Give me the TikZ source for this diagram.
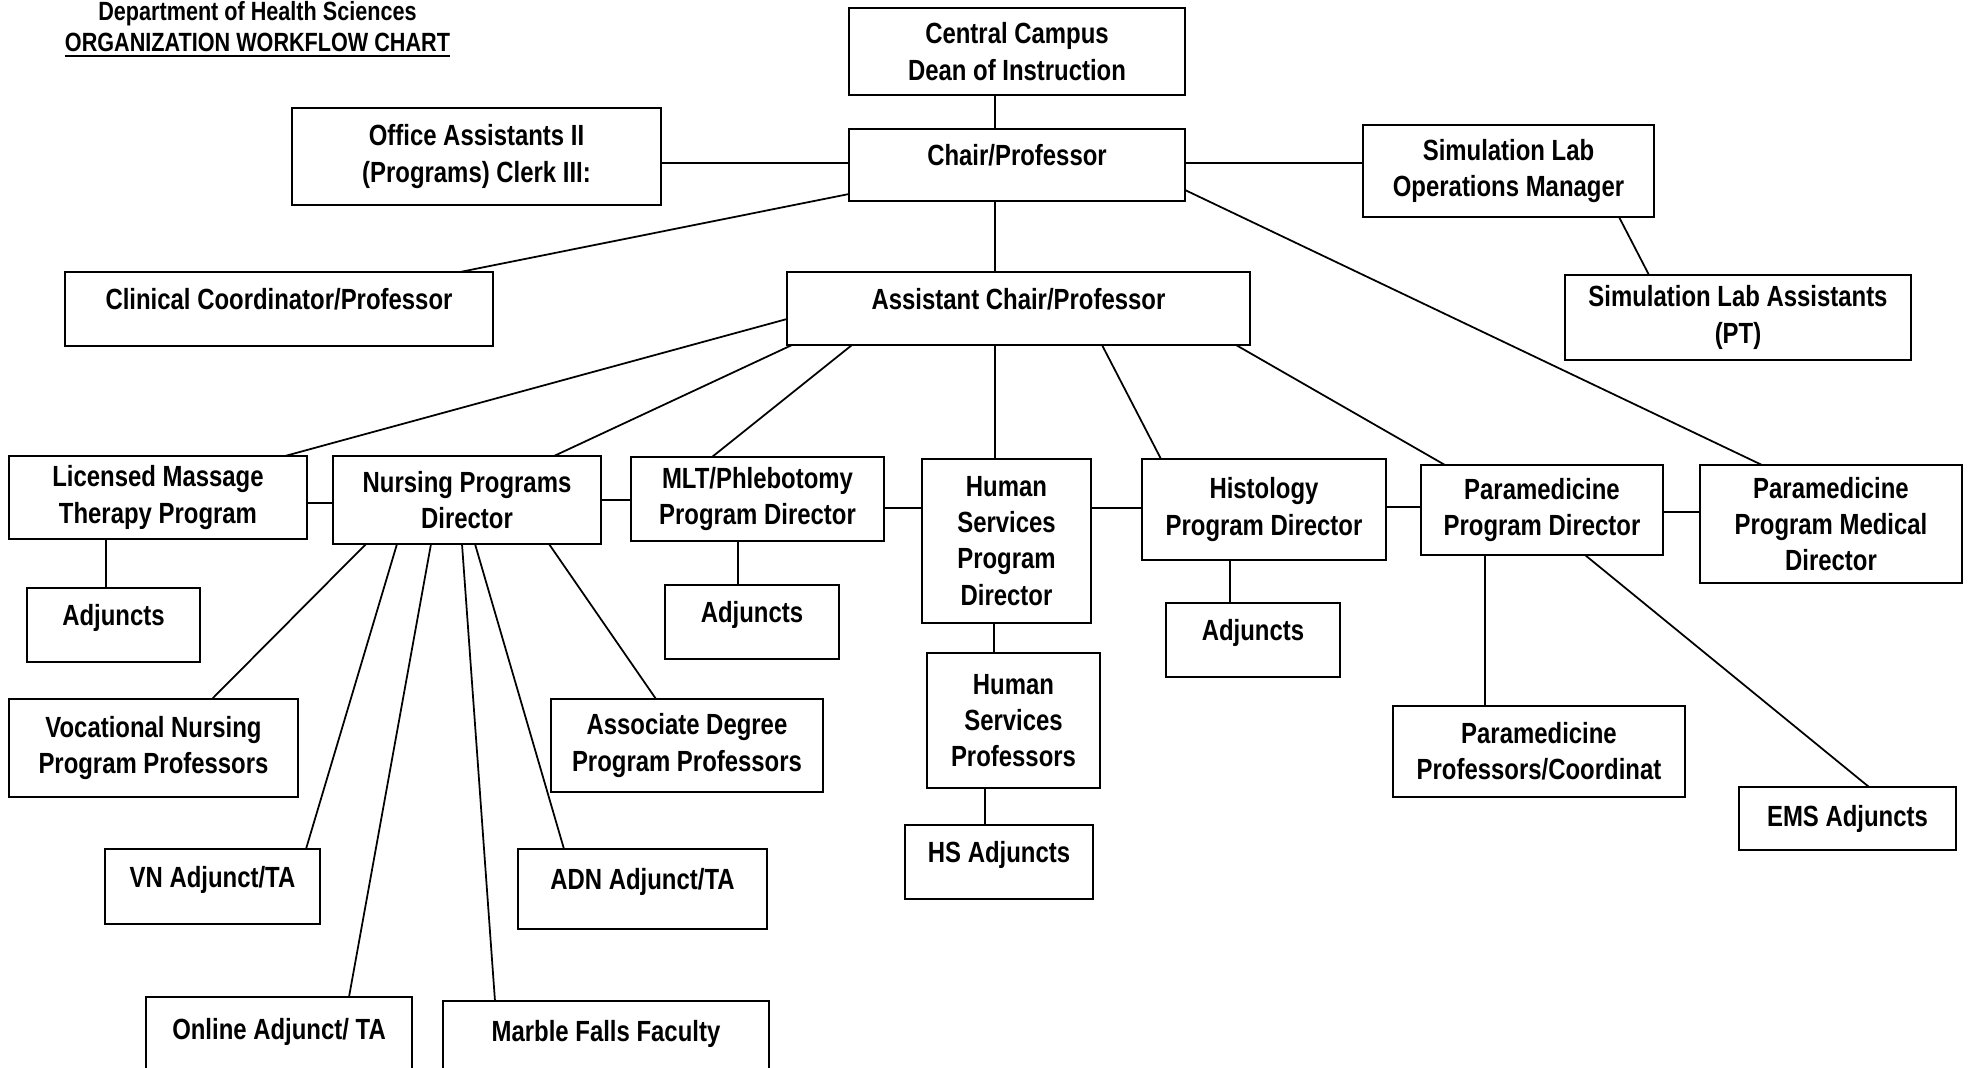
\documentclass[tikz,border=0pt]{standalone}
\usepackage{fontspec}
\setmainfont{Liberation Sans}[FakeStretch=0.82]
\usepackage{tikz}
\tikzstyle{box}  = [draw, line width=0.75pt, inner sep=0pt, outer sep=0pt, text centered, align=center, font=\bfseries\fontsize{8.3}{10.3}\selectfont]
\tikzstyle{lift} = [text depth=0.2cm]
\tikzstyle{link} = [line width=0.5pt]

\begin{document}
\begin{tikzpicture}
     \useasboundingbox (0,0) rectangle (19.71,-10.68);
     \node (title) [align=center, inner sep=0pt, font=\bfseries\fontsize{7.5}{8.6}\selectfont] at (2.575,-0.30)
       {Department of Health Sciences\\\underline{ORGANIZATION WORKFLOW CHART}};

     \node (cc)       [box, minimum width=3.36cm, minimum height=0.87cm] at (10.17,-0.515) {Central Campus\\Dean of Instruction};
     \node (chair)    [box, lift, minimum width=3.36cm, minimum height=0.72cm] at (10.17,-1.65) {Chair/Professor};
     \node (office)   [box, minimum width=3.69cm, minimum height=0.97cm] at (4.765,-1.565) {Office Assistants II\\(Programs) Clerk III:};
     \node (clin)     [box, lift, minimum width=4.28cm, minimum height=0.74cm] at (2.79,-3.09) {Clinical Coordinator/Professor};
     \node (ac)       [box, lift, minimum width=4.63cm, minimum height=0.73cm] at (10.185,-3.085) {Assistant Chair/Professor};
     \node (simops)   [box, minimum width=2.91cm, minimum height=0.92cm] at (15.085,-1.71) {Simulation Lab\\Operations Manager};
     \node (simass)   [box, minimum width=3.46cm, minimum height=0.85cm] at (17.38,-3.175) {Simulation Lab Assistants\\(PT)};

     \node (lmt)      [box, minimum width=2.98cm, minimum height=0.83cm] at (1.58,-4.975) {Licensed Massage\\Therapy Program};
     \node (nurs)     [box, minimum width=2.68cm, minimum height=0.88cm] at (4.67,-5.00) {Nursing Programs\\Director};
     \node (mlt)      [box, minimum width=2.53cm, minimum height=0.84cm] at (7.575,-4.99) {MLT/Phlebotomy\\Program Director};
     \node (hspd)     [box, minimum width=1.69cm, minimum height=1.64cm] at (10.065,-5.41) {Human\\Services\\Program\\Director};
     \node (hist)     [box, minimum width=2.44cm, minimum height=1.01cm] at (12.64,-5.095) {Histology\\Program Director};
     \node (parad)    [box, minimum width=2.42cm, minimum height=0.90cm] at (15.42,-5.10) {Paramedicine\\Program Director};
     \node (med)      [box, minimum width=2.62cm, minimum height=1.18cm] at (18.31,-5.24) {Paramedicine\\Program Medical\\Director};

     \node (lmtadj)   [box, lift, minimum width=1.73cm, minimum height=0.74cm] at (1.135,-6.25) {Adjuncts};
     \node (mltadj)   [box, lift, minimum width=1.74cm, minimum height=0.74cm] at (7.52,-6.22) {Adjuncts};
     \node (histadj)  [box, lift, minimum width=1.74cm, minimum height=0.74cm] at (12.53,-6.40) {Adjuncts};
     \node (hsprof)   [box, minimum width=1.73cm, minimum height=1.35cm] at (10.135,-7.205) {Human\\Services\\Professors};
     \node (hsadj)    [box, lift, minimum width=1.88cm, minimum height=0.74cm] at (9.99,-8.62) {HS Adjuncts};
     \node (voc)      [box, minimum width=2.89cm, minimum height=0.98cm] at (1.535,-7.48) {Vocational Nursing\\Program Professors};
     \node (assoc)    [box, minimum width=2.72cm, minimum height=0.93cm] at (6.87,-7.455) {Associate Degree\\Program Professors};
     \node (paraprof) [box, minimum width=2.92cm, minimum height=0.91cm] at (15.39,-7.515) {Paramedicine\\Professors/Coordinat};
     \node (ems)      [box, minimum width=2.17cm, minimum height=0.63cm] at (18.475,-8.185) {EMS Adjuncts};
     \node (vnadj)    [box, lift, minimum width=2.15cm, minimum height=0.75cm] at (2.125,-8.865) {VN Adjunct/TA};
     \node (adnadj)   [box, lift, minimum width=2.49cm, minimum height=0.80cm] at (6.425,-8.89) {ADN Adjunct/TA};
     \node (online)   [box, lift, minimum width=2.66cm, minimum height=0.83cm] at (2.79,-10.385) {Online Adjunct/ TA};
     \node (marble)   [box, lift, minimum width=3.26cm, minimum height=0.79cm] at (6.06,-10.405) {Marble Falls Faculty};

     \draw[link] ([xshift=-0.22cm]cc.south) -- ([xshift=-0.22cm]chair.north);
     \draw[link] ([xshift=-0.22cm]chair.south) -- ([xshift=-0.235cm]ac.north);
     \draw[link] ([xshift=-0.235cm]ac.south) -- ([xshift=-0.115cm]hspd.north);
     \draw[link] ([xshift=-0.125cm]hspd.south) -- ([xshift=-0.195cm]hsprof.north);
     \draw[link] ([xshift=-0.285cm]hsprof.south) -- ([xshift=-0.14cm]hsadj.north);
     \draw[link] ([yshift=-0.065cm]office.east) -- ([yshift=0.02cm]chair.west);
     \draw[link] ([yshift=0.02cm]chair.east) -- ([yshift=0.08cm]simops.west);
     \draw[link] ([xshift=1.81cm]clin.north) -- ([yshift=-0.29cm]chair.west);
     \draw[link] ([xshift=1.105cm]simops.south) -- ([xshift=-0.89cm]simass.north);
     \draw[link] ([yshift=-0.25cm]chair.east) -- ([xshift=-0.69cm]med.north);

     \draw[link] ([yshift=-0.105cm]ac.west) -- ([xshift=1.27cm]lmt.north);
     \draw[link] ([xshift=0.05cm]ac.south west) -- ([xshift=0.87cm]nurs.north);
     \draw[link] ([xshift=0.65cm]ac.south west) -- ([xshift=-0.455cm]mlt.north);
     \draw[link] ([xshift=3.15cm]ac.south west) -- ([xshift=-1.03cm]hist.north);
     \draw[link] ([xshift=4.49cm]ac.south west) -- ([xshift=-0.97cm]parad.north);

     \draw[link] ([yshift=-0.055cm]lmt.east) -- ([yshift=-0.03cm]nurs.west);
     \draw[link] (nurs.east) -- ([yshift=-0.01cm]mlt.west);
     \draw[link] ([yshift=-0.09cm]mlt.east) -- ([yshift=0.33cm]hspd.west);
     \draw[link] ([yshift=0.33cm]hspd.east) -- ([yshift=0.015cm]hist.west);
     \draw[link] ([yshift=0.025cm]hist.east) -- ([yshift=0.03cm]parad.west);
     \draw[link] ([yshift=-0.02cm]parad.east) -- ([yshift=0.12cm]med.west);

     \draw[link] ([xshift=-0.52cm]lmt.south) -- ([xshift=-0.075cm]lmtadj.north);
     \draw[link] ([xshift=-0.195cm]mlt.south) -- ([xshift=-0.14cm]mltadj.north);
     \draw[link] ([xshift=-0.34cm]hist.south) -- ([xshift=-0.23cm]histadj.north);
     \draw[link] ([xshift=-0.57cm]parad.south) -- ([xshift=-0.54cm]paraprof.north);
     \draw[link] ([xshift=0.43cm]parad.south) -- ([xshift=0.215cm]ems.north);

     \draw[link] ([xshift=0.33cm]nurs.south west) -- ([xshift=0.585cm]voc.north);
     \draw[link] ([xshift=0.64cm]nurs.south west) -- ([xshift=0.935cm]vnadj.north);
     \draw[link] ([xshift=0.98cm]nurs.south west) -- ([xshift=0.70cm]online.north);
     \draw[link] ([xshift=1.29cm]nurs.south west) -- ([xshift=-1.11cm]marble.north);
     \draw[link] ([xshift=1.42cm]nurs.south west) -- ([xshift=-0.785cm]adnadj.north);
     \draw[link] ([xshift=2.16cm]nurs.south west) -- ([xshift=-0.31cm]assoc.north);
\end{tikzpicture}
\end{document}
